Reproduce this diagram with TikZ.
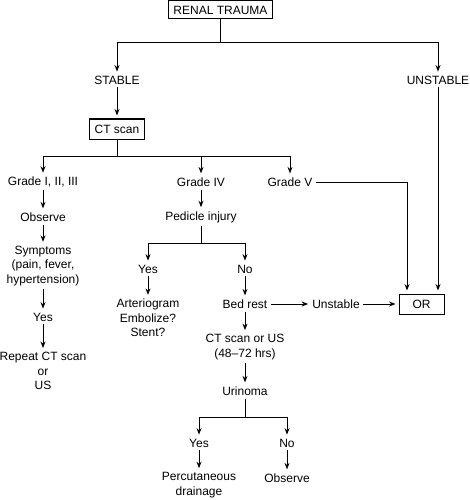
\documentclass[tikz,border=0pt]{standalone}
\usepackage{fontspec}
\setmainfont{Liberation Sans}
\usetikzlibrary{arrows.meta,positioning}

\begin{document}
\begin{tikzpicture}[
    x=1pt, y=1pt, on grid,
    lbl/.style={inner sep=3pt, align=center,
                font=\fontsize{12}{14.5}\selectfont},
    box/.style={lbl, draw, line width=1pt, inner xsep=5pt,
                minimum height=20pt},
    ln/.style={line width=1pt},
    arr/.style={-{Stealth[length=6.5pt,width=5pt]}, line width=1pt,
                shorten >=1pt}
  ]
  \useasboundingbox (0,0) rectangle (470,-500);
  % Top
  \node[box, minimum height=18pt] (trauma) at (220.5,-10) {RENAL TRAUMA};
  \node[lbl, below left=70pt and 103.5pt of trauma] (stable) {STABLE};
  \node[lbl, below right=70pt and 217.5pt of trauma] (unstable) {UNSTABLE};
  \node[box, below=49pt of stable] (ct) {CT scan};
  % Grades
  \node[lbl, below left=53pt and 74pt of ct] (gradeA) {Grade I, II, III};
  \node[lbl, below right=53pt and 84pt of ct] (gradeB) {Grade IV};
  \node[lbl, right=89pt of gradeB] (gradeC) {Grade V};
  % Left branch
  \node[lbl, below=35pt of gradeA] (observeA) {Observe};
  \node[lbl, below=49pt of observeA] (symptoms) {Symptoms\\(pain, fever,\\hypertension)};
  \node[lbl, below=51pt of symptoms] (yesA) {Yes};
  \node[lbl, below=54pt of yesA] (repeat) {Repeat CT scan\\or\\US};
  % Middle branch
  \node[lbl, below=35pt of gradeB] (pedicle) {Pedicle injury};
  \node[lbl, below left=52pt and 53pt of pedicle] (yesB) {Yes};
  \node[lbl, below right=52pt and 44pt of pedicle] (noB) {No};
  \node[lbl, below=49pt of yesB] (arterio) {Arteriogram\\Embolize?\\Stent?};
  \node[lbl, below=35pt of noB] (bedrest) {Bed rest};
  \node[lbl, right=91pt of bedrest] (unstableB) {Unstable};
  \node[box, minimum width=45pt, right=85.5pt of unstableB] (orbox) {OR};
  \node[lbl, below=43pt of bedrest] (ctus) {CT scan or US\\(48--72 hrs)};
  \node[lbl, below=44pt of ctus] (urinoma) {Urinoma};
  \node[lbl, below left=52pt and 46pt of urinoma] (yesC) {Yes};
  \node[lbl, below right=52pt and 42pt of urinoma] (noC) {No};
  \node[lbl, below=42pt of yesC] (drainage) {Percutaneous\\drainage};
  \node[lbl, below=35pt of noC] (observeB) {Observe};

  % Junctions
  \coordinate[below=33pt of trauma] (splitA);
  \coordinate[below=27pt of ct] (splitB);
  \coordinate[below=26pt of pedicle] (splitC);
  \coordinate[below=26pt of urinoma] (splitD);
  \coordinate[xshift=-14.5pt] (orin) at (orbox.north);

  \draw[ln] (trauma) -- (splitA);
  \draw[arr] (splitA) -| (stable);
  \draw[arr] (splitA) -| (unstable);
  \draw[arr, shorten >=3pt] (stable) -- (ct);
  \draw[arr, shorten >=3pt] (unstable) -- (unstable |- orbox.north);

  \draw[ln] (ct) -- (splitB);
  \draw[arr] (splitB) -| (gradeA);
  \draw[arr] (splitB) -| (gradeB);
  \draw[arr] (splitB) -| (gradeC);
  \draw[arr, shorten >=3pt] (gradeC) -| (orin);

  \draw[arr] (gradeA) -- (observeA);
  \draw[arr] (observeA) -- (symptoms);
  \draw[arr] (symptoms) -- (yesA);
  \draw[arr] (yesA) -- (repeat);

  \draw[arr] (gradeB) -- (pedicle);
  \draw[ln] (pedicle) -- (splitC);
  \draw[arr] (splitC) -| (yesB);
  \draw[arr] (splitC) -| (noB);
  \draw[arr] (yesB) -- (arterio);
  \draw[arr] (noB) -- (bedrest);
  \draw[arr] (bedrest) -- (unstableB);
  \draw[arr, shorten >=3pt] (unstableB) -- (orbox);
  \draw[arr] (bedrest) -- (ctus);
  \draw[arr] (ctus) -- (urinoma);

  \draw[ln] (urinoma) -- (splitD);
  \draw[arr] (splitD) -| (yesC);
  \draw[arr] (splitD) -| (noC);
  \draw[arr] (yesC) -- (drainage);
  \draw[arr] (noC) -- (observeB);
\end{tikzpicture}
\end{document}
